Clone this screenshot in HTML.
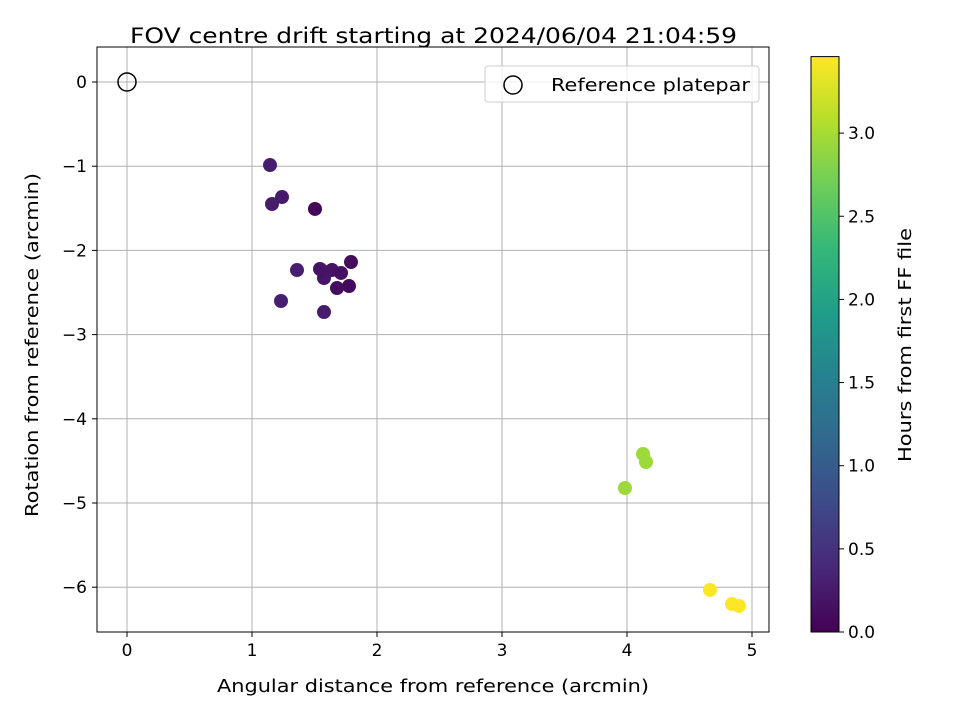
<!DOCTYPE html>
<html><head><meta charset="utf-8"><style>
body{margin:0;background:#fff}
svg{display:block;font-family:"DejaVu Sans","Liberation Sans",sans-serif}
</style></head><body>
<svg id="chart" width="960" height="720">
<defs><linearGradient id="vir" x1="0" y1="1" x2="0" y2="0"></linearGradient></defs>
<g id="grid"></g>
<g id="axes"></g>
<g id="points"></g>
<g id="legend">
<rect x="485" y="66" width="274" height="36" rx="3" fill="#fff" fill-opacity="0.8" stroke="#ccc"/>
<circle cx="513" cy="85" r="9" fill="none" stroke="#000" stroke-width="1.5"/>
<text x="551" y="91" font-size="18" textLength="199" lengthAdjust="spacingAndGlyphs">Reference platepar</text>
</g>
<text x="130" y="43" font-size="21" textLength="607" lengthAdjust="spacingAndGlyphs">FOV centre drift starting at 2024/06/04 21:04:59</text>
<text x="217" y="692" font-size="18" textLength="432" lengthAdjust="spacingAndGlyphs">Angular distance from reference (arcmin)</text>
<text transform="translate(38,517) rotate(-90)" font-size="18" textLength="344" lengthAdjust="spacingAndGlyphs">Rotation from reference (arcmin)</text>
<g id="cbar"></g>
<text transform="translate(911,462) rotate(-90)" font-size="18" textLength="234" lengthAdjust="spacingAndGlyphs">Hours from first FF file</text>
</svg>
<script>
const xs=[1.144,1.24,1.16,1.504,1.792,1.36,1.544,1.64,1.576,1.712,1.776,1.68,1.232,1.576,1.56,4.128,4.152,3.984,4.664,4.84,4.896];
const ys=[-0.986,-1.366,-1.449,-1.508,-2.138,-2.233,-2.221,-2.233,-2.328,-2.268,-2.423,-2.447,-2.601,-2.732,-2.24,-4.418,-4.513,-4.822,-6.033,-6.2,-6.223];
const hours=[0.28,0.25,0.27,0.05,0.1,0.3,0.2,0.18,0.22,0.15,0.08,0.12,0.3,0.25,0.17,2.95,2.95,2.95,3.45,3.45,3.46];
const xTicks=[0,1,2,3,4,5];
const yTicks=[0,-1,-2,-3,-4,-5,-6];
const cTicks=[0,0.5,1.0,1.5,2.0,2.5,3.0];
const NS='http://www.w3.org/2000/svg';
const L=97,R=769,T=47,B=632;
const sx=v=>127+v*125, sy=v=>82-v*84.2;
const cy=v=>632-v*166.3;
const vstops=[[68,1,84],[72,40,120],[62,74,137],[49,104,142],[38,130,142],[31,158,137],[53,183,121],[110,206,88],[181,222,43],[253,231,37]];
function vir(t){t=Math.max(0,Math.min(1,t))*9;const i=Math.min(8,Math.floor(t)),f=t-i,a=vstops[i],b=vstops[i+1];
return 'rgb('+a.map((c,k)=>Math.round(c+(b[k]-c)*f)).join(',')+')';}
function mk(tag,at,par){const e=document.createElementNS(NS,tag);for(const k in at)e.setAttribute(k,at[k]);par.appendChild(e);return e;}
const grid=document.getElementById('grid'),axes=document.getElementById('axes'),pts=document.getElementById('points'),cb=document.getElementById('cbar');
xTicks.forEach(v=>{const x=sx(v);
const g=mk('line',{x1:x,x2:x,y1:T,y2:B,stroke:'#b0b0b0','stroke-width':1},grid);

const t=mk('line',{x1:x,x2:x,y1:B,y2:B+5,stroke:'#000'},axes);

const l=mk('text',{x:x,y:B+24,'font-size':17,'text-anchor':'middle'},axes);l.textContent=v;
});
yTicks.forEach(v=>{const y=sy(v);
const g=mk('line',{x1:L,x2:R,y1:y,y2:y,stroke:'#b0b0b0','stroke-width':1},grid);

const t=mk('line',{x1:L-5,x2:L,y1:y,y2:y,stroke:'#000'},axes);

const l=mk('text',{x:L-10,y:y+6,'font-size':17,'text-anchor':'end'},axes);l.textContent=v===0?'0':'\u2212'+Math.abs(v);
});
const fr=mk('rect',{x:L,y:T,width:R-L,height:B-T,fill:'none',stroke:'#000'},axes);

const ref=mk('circle',{cx:sx(0),cy:sy(0),r:9,fill:'none',stroke:'#000','stroke-width':1.5},pts);

const hmax=3.46;
xs.forEach((x,i)=>{const c=mk('circle',{cx:sx(x),cy:sy(ys[i]),r:7,fill:vir(hours[i]/hmax)},pts);
});
const grad=document.getElementById('vir');
vstops.forEach((s,i)=>{const st=mk('stop',{offset:i/9,'stop-color':'rgb('+s.join(',')+')'},grad);});
const cbr=mk('rect',{x:811,y:cy(hmax),width:28,height:632-cy(hmax),fill:'url(#vir)',stroke:'#000'},cb);

cTicks.forEach(v=>{const y=cy(v);
const t=mk('line',{x1:839,x2:844,y1:y,y2:y,stroke:'#000'},cb);

const l=mk('text',{x:848,y:y+6,'font-size':17},cb);l.textContent=v.toFixed(1);
});
</script>
</body></html>
